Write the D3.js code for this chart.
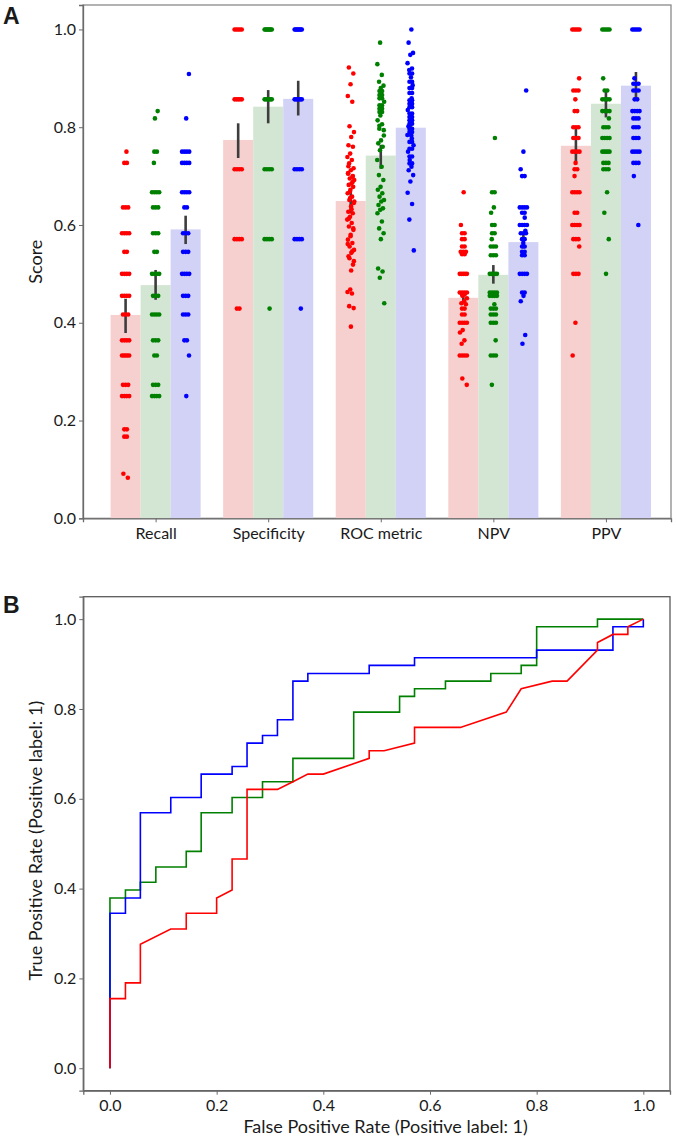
<!DOCTYPE html>
<html><head><meta charset="utf-8">
<script src="https://cdn.jsdelivr.net/npm/d3@7"></script>
<style>
body{margin:0;background:#fff}
svg{display:block}
text{font-family:Lato,"Open Sans",sans-serif;fill:#1a1a1a}
</style>
</head><body>
<svg id="c" width="677" height="1145"></svg>
<script>
// ---------------- Panel A data ----------------
const categories = ["Recall","Specificity","ROC metric","NPV","PPV"];
const seriesColors = ["#ff0000","#008000","#0000ff"];
const barFills = ["#f6cfcf","#d3e6d3","#d2d2f6"];
const yTicksA = [0,0.2,0.4,0.6,0.8,1.0];

const meanRed   = [0.416,0.774,0.649,0.451,0.762];
const meanGreen = [0.477,0.842,0.742,0.498,0.848];
const meanBlue  = [0.591,0.858,0.799,0.565,0.885];
const ciLowRed   = [0.379,0.737,0.624,0.439,0.728];
const ciHighRed  = [0.449,0.808,0.675,0.462,0.797];
const ciLowGreen = [0.447,0.808,0.715,0.480,0.820];
const ciHighGreen= [0.508,0.876,0.764,0.518,0.876];
const ciLowBlue  = [0.561,0.824,0.781,0.552,0.859];
const ciHighBlue = [0.619,0.895,0.813,0.580,0.913];

const recallRed = [0.75,0.727,0.727,0.636,0.636,0.636,0.583,0.583,0.583,0.583,0.545,0.545,0.5,0.5,0.5,0.5,0.455,0.455,0.455,0.455,0.417,0.417,0.417,0.364,0.364,0.364,0.364,0.333,0.333,0.333,0.333,0.333,0.273,0.273,0.273,0.25,0.25,0.25,0.25,0.182,0.182,0.167,0.167,0.091,0.083];
const recallGreen = [0.833,0.818,0.75,0.75,0.727,0.667,0.667,0.667,0.667,0.636,0.636,0.636,0.583,0.583,0.583,0.545,0.545,0.5,0.5,0.5,0.5,0.455,0.455,0.455,0.417,0.417,0.417,0.417,0.364,0.364,0.364,0.333,0.333,0.273,0.273,0.273,0.25,0.25,0.25,0.25];
const recallBlue = [0.909,0.818,0.75,0.75,0.75,0.75,0.727,0.727,0.727,0.727,0.667,0.667,0.667,0.667,0.636,0.636,0.583,0.583,0.583,0.545,0.545,0.545,0.5,0.5,0.5,0.5,0.455,0.455,0.455,0.417,0.417,0.417,0.364,0.364,0.333,0.25];

const specRed = [1,1,1,1,1,0.857,0.857,0.857,0.857,0.857,0.714,0.714,0.714,0.714,0.571,0.571,0.571,0.571,0.429,0.429];
const specGreen = [1,1,1,1,1,1,1,1,0.857,0.857,0.857,0.857,0.857,0.857,0.714,0.714,0.714,0.714,0.571,0.571,0.571,0.571,0.429];
const specBlue = [1,1,1,1,1,1,1,1,0.857,0.857,0.857,0.857,0.857,0.857,0.714,0.714,0.714,0.714,0.571,0.571,0.571,0.571,0.429];

const rocRed = [0.922,0.91,0.888,0.864,0.852,0.802,0.79,0.78,0.763,0.76,0.746,0.739,0.733,0.726,0.716,0.712,0.706,0.699,0.695,0.692,0.685,0.682,0.678,0.672,0.665,0.658,0.651,0.645,0.638,0.627,0.624,0.617,0.611,0.604,0.597,0.59,0.58,0.57,0.563,0.556,0.549,0.543,0.536,0.519,0.468,0.463,0.46,0.434,0.43,0.392,0.705,0.688,0.668,0.648,0.632,0.613,0.593,0.577,0.561,0.546,0.532,0.526,0.507,0.72,0.7,0.655];
const rocGreen = [0.973,0.929,0.907,0.893,0.885,0.88,0.874,0.866,0.859,0.852,0.845,0.838,0.831,0.824,0.814,0.806,0.797,0.794,0.773,0.767,0.76,0.753,0.733,0.719,0.702,0.692,0.678,0.672,0.665,0.658,0.651,0.648,0.641,0.634,0.631,0.624,0.607,0.593,0.583,0.571,0.511,0.505,0.492,0.44,0.866,0.859,0.845,0.838,0.831,0.874,0.803,0.783];
const rocBlue = [1.0,0.973,0.952,0.948,0.931,0.92,0.917,0.91,0.902,0.893,0.886,0.88,0.87,0.859,0.855,0.848,0.841,0.835,0.828,0.821,0.814,0.807,0.802,0.797,0.79,0.784,0.777,0.77,0.763,0.756,0.75,0.74,0.733,0.726,0.719,0.712,0.702,0.689,0.666,0.643,0.611,0.548,0.91,0.893,0.88,0.87,0.855,0.848,0.841,0.828,0.821,0.814,0.807,0.797,0.79,0.783,0.77,0.756,0.74,0.726];

const npvRed = [0.667,0.6,0.583,0.583,0.571,0.571,0.556,0.556,0.545,0.545,0.545,0.54,0.54,0.5,0.5,0.5,0.5,0.5,0.462,0.462,0.462,0.462,0.458,0.458,0.455,0.45,0.444,0.44,0.438,0.429,0.429,0.417,0.417,0.4,0.4,0.4,0.4,0.385,0.38,0.364,0.357,0.333,0.333,0.333,0.333,0.286,0.273];
const npvGreen = [0.778,0.667,0.667,0.636,0.625,0.6,0.6,0.583,0.583,0.571,0.556,0.556,0.556,0.538,0.538,0.538,0.5,0.5,0.5,0.5,0.5,0.462,0.462,0.462,0.462,0.455,0.455,0.455,0.455,0.438,0.429,0.429,0.429,0.417,0.417,0.417,0.4,0.4,0.4,0.364,0.333,0.333,0.333,0.273];
const npvBlue = [0.875,0.75,0.714,0.7,0.7,0.636,0.636,0.636,0.636,0.625,0.625,0.615,0.6,0.6,0.6,0.6,0.588,0.583,0.583,0.583,0.571,0.571,0.563,0.556,0.556,0.545,0.545,0.538,0.538,0.5,0.5,0.5,0.5,0.462,0.462,0.455,0.444,0.375,0.357];

const ppvRed = [1,1,1,1,1,0.9,0.875,0.875,0.875,0.857,0.833,0.833,0.8,0.8,0.8,0.778,0.778,0.778,0.75,0.75,0.75,0.75,0.727,0.714,0.714,0.7,0.667,0.667,0.667,0.667,0.625,0.625,0.6,0.6,0.6,0.6,0.571,0.571,0.571,0.556,0.5,0.5,0.5,0.4,0.333];
const ppvGreen = [1,1,1,1,1,0.9,0.875,0.875,0.857,0.857,0.857,0.857,0.833,0.833,0.833,0.833,0.818,0.8,0.8,0.8,0.778,0.778,0.778,0.778,0.75,0.75,0.75,0.75,0.75,0.727,0.727,0.727,0.714,0.714,0.714,0.667,0.625,0.571,0.5];
const ppvBlue = [1,1,1,1,1,0.9,0.889,0.889,0.889,0.875,0.875,0.875,0.857,0.857,0.833,0.833,0.833,0.833,0.818,0.818,0.818,0.8,0.8,0.8,0.778,0.778,0.778,0.75,0.75,0.75,0.75,0.727,0.727,0.727,0.7,0.6];

// ---------------- Panel B data (ROC curves) ----------------
const rocTicks = [0,0.2,0.4,0.6,0.8,1.0];
const fprRed = [0,0,0.029,0.029,0.057,0.057,0.114,0.143,0.143,0.2,0.2,0.229,0.229,0.257,0.257,0.314,0.343,0.371,0.4,0.486,0.486,0.514,0.571,0.571,0.657,0.743,0.771,0.829,0.857,0.914,0.914,0.943,0.971,0.971,1];
const tprRed = [0,0.155,0.155,0.19,0.19,0.276,0.31,0.31,0.345,0.345,0.379,0.397,0.466,0.466,0.621,0.621,0.638,0.655,0.655,0.69,0.707,0.707,0.724,0.759,0.759,0.793,0.845,0.862,0.862,0.931,0.948,0.966,0.966,0.983,1];
const fprGreen = [0,0,0.029,0.029,0.057,0.057,0.086,0.086,0.143,0.143,0.171,0.171,0.229,0.229,0.286,0.286,0.343,0.343,0.457,0.457,0.543,0.543,0.571,0.571,0.629,0.629,0.714,0.714,0.771,0.771,0.8,0.8,0.914,0.914,1];
const tprGreen = [0,0.379,0.379,0.397,0.397,0.414,0.414,0.448,0.448,0.483,0.483,0.569,0.569,0.603,0.603,0.638,0.638,0.69,0.69,0.793,0.793,0.828,0.828,0.845,0.845,0.862,0.862,0.879,0.879,0.897,0.897,0.983,0.983,1,1];
const fprBlue = [0,0,0.029,0.029,0.057,0.057,0.114,0.114,0.171,0.171,0.229,0.229,0.257,0.257,0.286,0.286,0.314,0.314,0.343,0.343,0.371,0.371,0.486,0.486,0.571,0.571,0.8,0.8,0.943,0.943,1,1];
const tprBlue = [0,0.345,0.345,0.379,0.379,0.569,0.569,0.603,0.603,0.655,0.655,0.672,0.672,0.724,0.724,0.741,0.741,0.776,0.776,0.862,0.862,0.879,0.879,0.897,0.897,0.914,0.914,0.931,0.931,0.983,0.983,1];

// ---------------- Drawing ----------------
const svg = d3.select("#c");
const tickFont = "16px";
const titleFont = "18px";

// ===== Panel A =====
const xA = d3.scaleLinear().domain([-0.645, 4.578]).range([83, 671]);
const yA = d3.scaleLinear().domain([0, 1.05]).range([518.3, 5]);
const gA = svg.append("g");
const barW = 0.8/3;

const series = [
  {color: seriesColors[0], fill: barFills[0], mean: meanRed, lo: ciLowRed, hi: ciHighRed, pts: [recallRed, specRed, rocRed, npvRed, ppvRed]},
  {color: seriesColors[1], fill: barFills[1], mean: meanGreen, lo: ciLowGreen, hi: ciHighGreen, pts: [recallGreen, specGreen, rocGreen, npvGreen, ppvGreen]},
  {color: seriesColors[2], fill: barFills[2], mean: meanBlue, lo: ciLowBlue, hi: ciHighBlue, pts: [recallBlue, specBlue, rocBlue, npvBlue, ppvBlue]}
];

gA.append("rect").attr("x", xA.range()[0]).attr("y", yA.range()[1])
  .attr("width", xA.range()[1]-xA.range()[0]).attr("height", yA.range()[0]-yA.range()[1])
  .attr("fill","none").attr("stroke","#808080").attr("stroke-width",1.2);

series.forEach((s, si) => {
  const off = (si-1)*barW;
  gA.append("g").selectAll("rect").data(s.mean).join("rect")
    .attr("x", (d,i) => xA(i+off-barW/2))
    .attr("width", xA(barW)-xA(0))
    .attr("y", d => yA(d))
    .attr("height", d => yA(0)-yA(d))
    .attr("fill", s.fill);
});
series.forEach((s, si) => {
  const off = (si-1)*barW;
  gA.append("g").selectAll("line").data(s.mean).join("line")
    .attr("x1", (d,i) => xA(i+off)).attr("x2", (d,i) => xA(i+off))
    .attr("y1", (d,i) => yA(s.lo[i])).attr("y2", (d,i) => yA(s.hi[i]))
    .attr("stroke", "#3d3d3d").attr("stroke-width", 2.6);
});
const J = 3.6, R = 2.3;
series.forEach((s, si) => {
  const off = (si-1)*barW;
  s.pts.forEach((arr, ci) => {
    const counts = {}, seen = {};
    arr.forEach(v => counts[v] = (counts[v]||0)+1);
    const pts = arr.map((v, i) => {
      const n = counts[v];
      const k = seen[v] = (seen[v]===undefined ? 0 : seen[v]+1);
      let dx;
      if (n === 1) dx = (((i+1)*0.6180339887 + ci*0.31 + si*0.17) % 1 - 0.5) * 2 * J;
      else { const sp = Math.min(2*J/(n-1), 2.6); dx = (k - (n-1)/2) * sp; }
      return {v, dx};
    });
    gA.append("g").selectAll("circle").data(pts).join("circle")
      .attr("cx", d => xA(ci+off) + d.dx)
      .attr("cy", d => yA(d.v))
      .attr("r", R)
      .attr("fill", s.color);
  });
});

const axA_y = gA.append("g").attr("transform", `translate(${xA.range()[0]},0)`)
  .call(d3.axisLeft(yA).tickValues(yTicksA).tickFormat(d3.format(".1f")).tickSize(4).tickPadding(3));
const axA_x = gA.append("g").attr("transform", `translate(0,${yA(0)})`)
  .call(d3.axisBottom(xA).tickValues(d3.range(categories.length)).tickFormat(i => categories[i]).tickSize(4).tickPadding(5));
[axA_y, axA_x].forEach(a => {
  a.select(".domain").attr("stroke","#6a6a6a").attr("stroke-width",1.3);
  a.selectAll(".tick line").attr("stroke","#6a6a6a");
  a.selectAll(".tick text").style("font-size", tickFont).style("font-family","Lato,sans-serif").attr("fill","#1a1a1a");
});
gA.append("text").attr("transform", `translate(42,${(yA.range()[0]+yA.range()[1])/2}) rotate(-90)`)
  .attr("text-anchor","middle").style("font-size",titleFont).text("Score");
svg.append("text").attr("x",3).attr("y",24).style("font-family","'Liberation Sans',Arial,sans-serif")
  .style("font-weight","bold").style("font-size","23px").attr("fill","#000").text("A");

// ===== Panel B =====
const xB = d3.scaleLinear().domain([-0.05, 1.05]).range([83.3, 670]);
const yB = d3.scaleLinear().domain([-0.05, 1.05]).range([1090.7, 596.7]);
const gB = svg.append("g");
gB.append("rect").attr("x", xB.range()[0]).attr("y", yB.range()[1])
  .attr("width", xB.range()[1]-xB.range()[0]).attr("height", yB.range()[0]-yB.range()[1])
  .attr("fill","none").attr("stroke","#5a5a5a").attr("stroke-width",1.3);

const curves = [
  {fpr: fprGreen, tpr: tprGreen, color: seriesColors[1]},
  {fpr: fprBlue, tpr: tprBlue, color: seriesColors[2]},
  {fpr: fprRed, tpr: tprRed, color: seriesColors[0]}
];
const lineB = d3.line().x(d => xB(d[0])).y(d => yB(d[1]));
curves.forEach(c => {
  gB.append("path").datum(c.fpr.map((f,i) => [f, c.tpr[i]]))
    .attr("d", lineB).attr("fill","none").attr("stroke", c.color).attr("stroke-width",1.6);
});

const axB_y = gB.append("g").attr("transform", `translate(${xB.range()[0]},0)`)
  .call(d3.axisLeft(yB).tickValues(rocTicks).tickFormat(d3.format(".1f")).tickSize(4).tickPadding(3));
const axB_x = gB.append("g").attr("transform", `translate(0,${yB.range()[0]})`)
  .call(d3.axisBottom(xB).tickValues(rocTicks).tickFormat(d3.format(".1f")).tickSize(4).tickPadding(5));
[axB_y, axB_x].forEach(a => {
  a.select(".domain").attr("stroke","#6a6a6a").attr("stroke-width",1.3);
  a.selectAll(".tick line").attr("stroke","#6a6a6a");
  a.selectAll(".tick text").style("font-size", tickFont).style("font-family","Lato,sans-serif").attr("fill","#1a1a1a");
});
gB.append("text").attr("transform", `translate(42,${(yB.range()[0]+yB.range()[1])/2 - 3}) rotate(-90)`)
  .attr("text-anchor","middle").style("font-size",titleFont).text("True Positive Rate (Positive label: 1)");
gB.append("text").attr("x", (xB.range()[0]+xB.range()[1])/2 + 9).attr("y", 1133)
  .attr("text-anchor","middle").style("font-size",titleFont).text("False Positive Rate (Positive label: 1)");
svg.append("text").attr("x",3).attr("y",613).style("font-family","'Liberation Sans',Arial,sans-serif")
  .style("font-weight","bold").style("font-size","23px").attr("fill","#000").text("B");
</script>
</body></html>
